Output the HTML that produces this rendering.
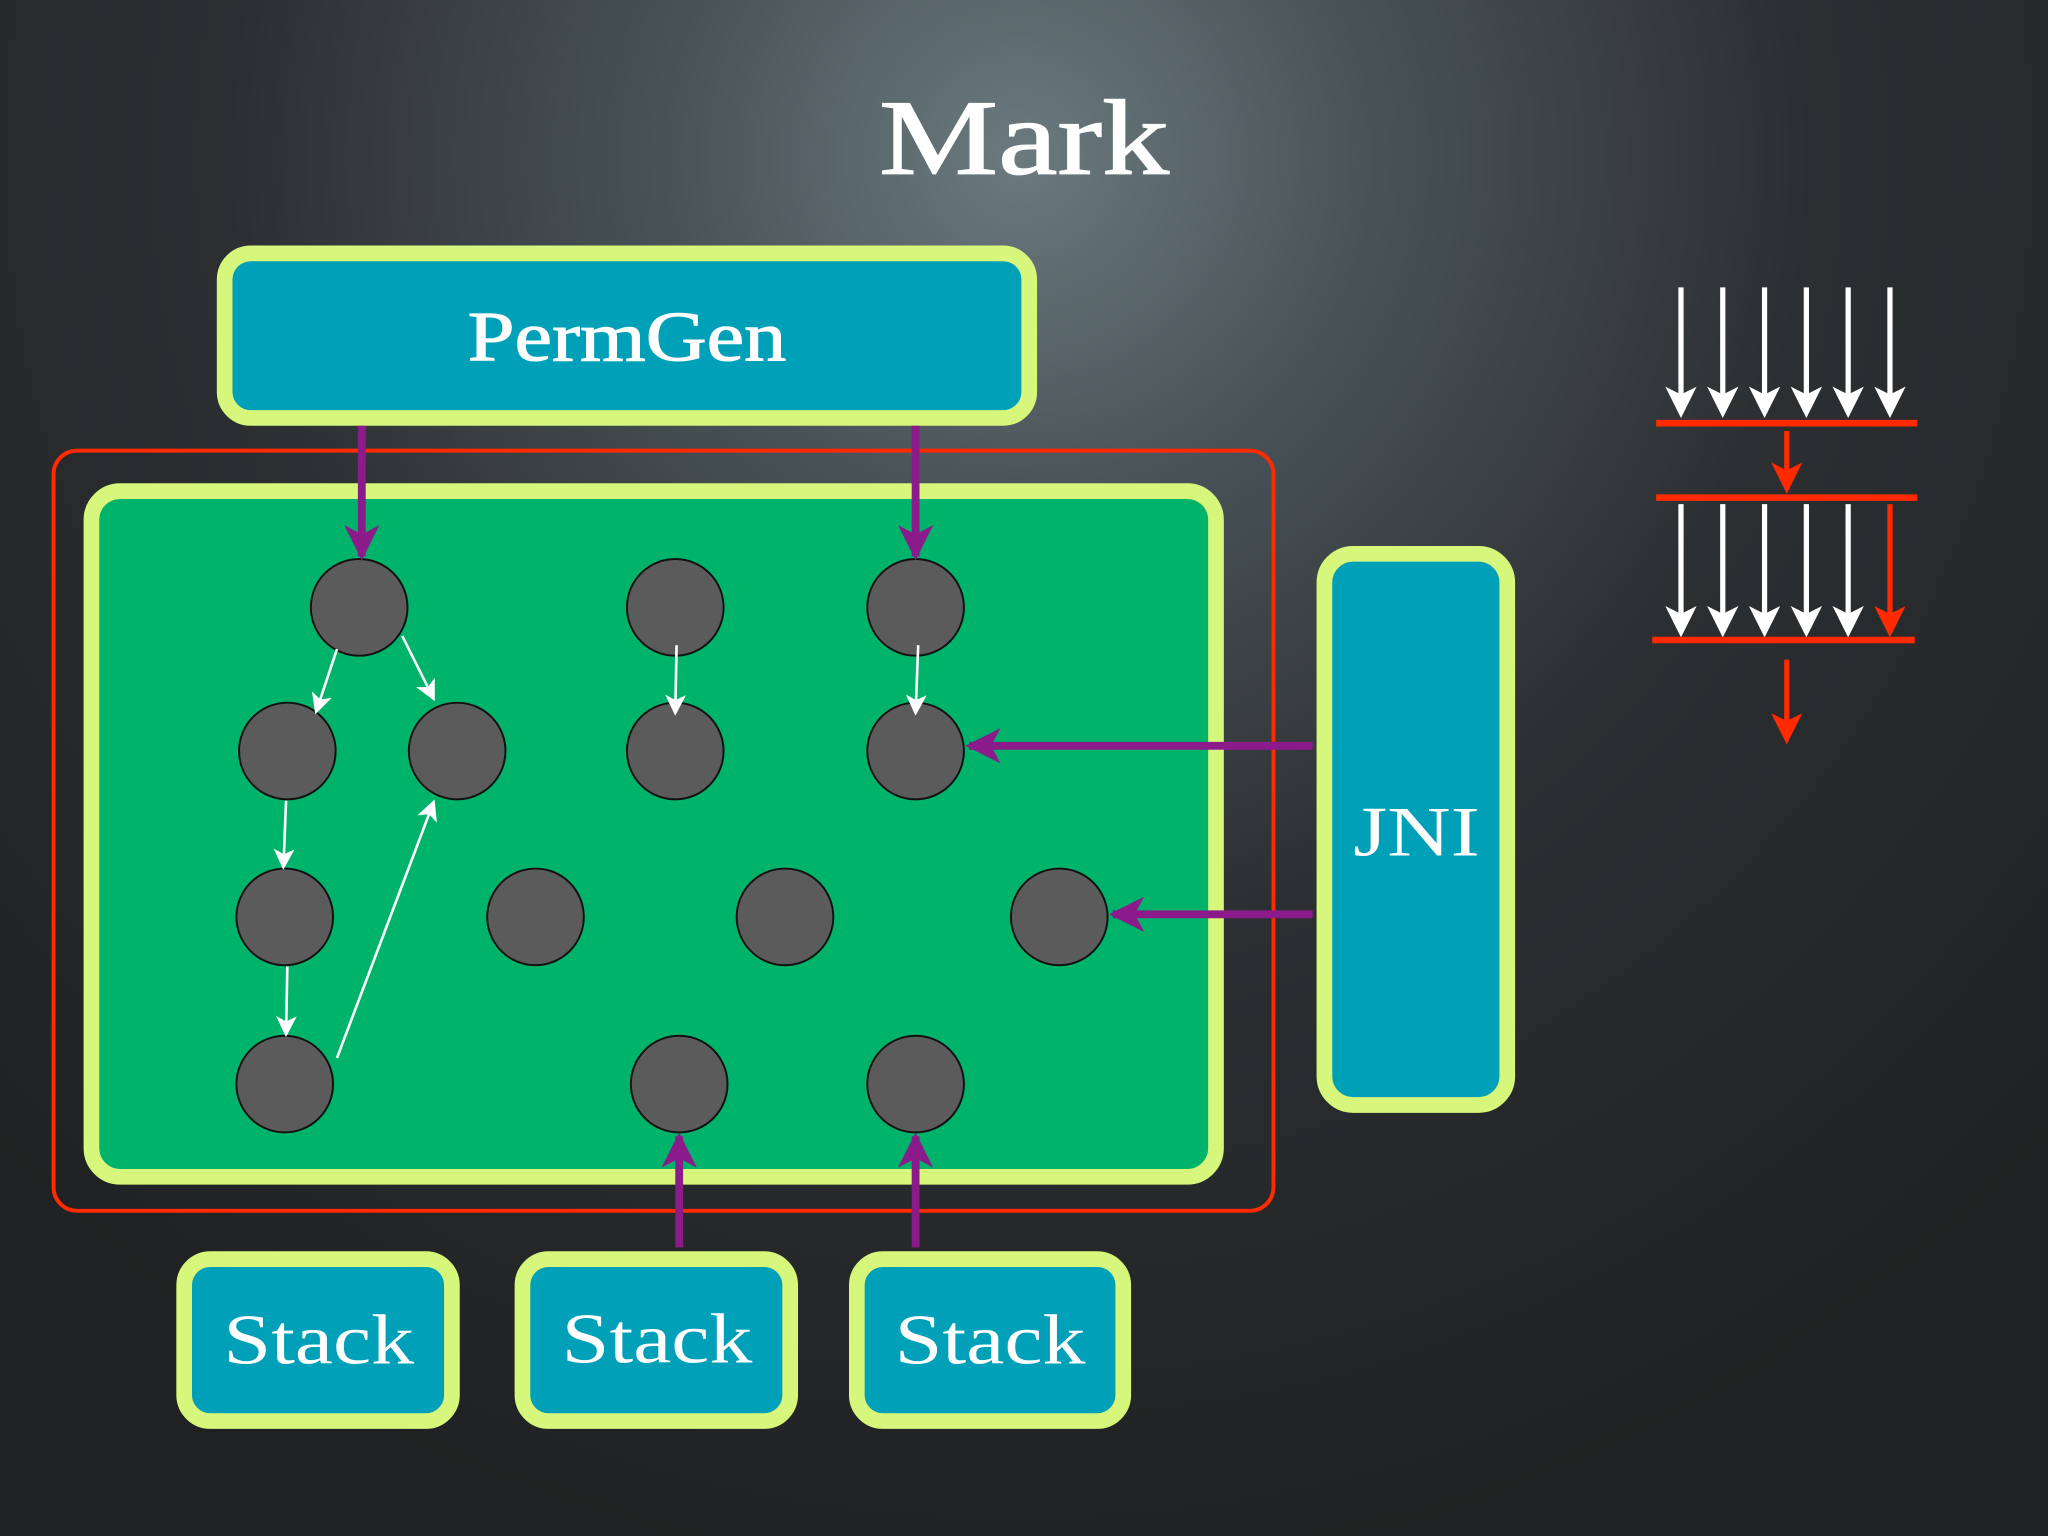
<!DOCTYPE html>
<html><head><meta charset="utf-8"><style>
html,body{margin:0;padding:0;width:2048px;height:1536px;overflow:hidden;background:#1f2122}
svg{display:block}
text{font-family:"Liberation Serif",serif;fill:#fff}
</style></head><body>
<svg width="2048" height="1536" viewBox="0 0 1568 1176" xmlns="http://www.w3.org/2000/svg">
<defs>
<radialGradient id="bg" cx="780" cy="120" r="1100" gradientUnits="userSpaceOnUse">
<stop offset="0" stop-color="#6a7a7f"/>
<stop offset="0.25" stop-color="#485256"/>
<stop offset="0.55" stop-color="#2c2f31"/>
<stop offset="1" stop-color="#1f2122"/>
</radialGradient>
<marker id="pa" markerWidth="4.5" markerHeight="4.5" refX="4" refY="2.25" orient="auto" markerUnits="strokeWidth"><path d="M0,0 L4.5,2.25 L0,4.5 L1.2,2.25 z" fill="#8b1a8b"/></marker>
<marker id="wa" markerWidth="8" markerHeight="8" refX="7" refY="4" orient="auto" markerUnits="strokeWidth"><path d="M0,0 L8,4 L0,8 L2,4 z" fill="#fff"/></marker>
<marker id="wb" markerWidth="6" markerHeight="6" refX="5" refY="3" orient="auto" markerUnits="strokeWidth"><path d="M0,0 L6,3 L0,6 L1.5,3 z" fill="#fff"/></marker>
<marker id="ra" markerWidth="6" markerHeight="6" refX="5" refY="3" orient="auto" markerUnits="strokeWidth"><path d="M0,0 L6,3 L0,6 L1.5,3 z" fill="#ff2a00"/></marker>
</defs>
<rect width="1568" height="1176" fill="url(#bg)"/>
<text x="673" y="133" font-size="82" textLength="222" lengthAdjust="spacingAndGlyphs" stroke="#fff" stroke-width="1">Mark</text>

<rect x="172" y="194" width="616" height="126" rx="20" fill="#00a0b8" stroke="#d6f77c" stroke-width="12"/>
<text x="358" y="276" font-size="54" textLength="244" lengthAdjust="spacingAndGlyphs" stroke="#fff" stroke-width="0.8">PermGen</text>

<rect x="41" y="345" width="934" height="582" rx="18" fill="none" stroke="#ff2a00" stroke-width="3"/>
<rect x="70" y="376" width="861" height="525" rx="22" fill="#00b36b" stroke="#d6f77c" stroke-width="12"/>

<rect x="1014" y="424" width="140" height="422" rx="22" fill="#00a0b8" stroke="#d6f77c" stroke-width="12"/>
<text x="1036" y="655" font-size="54" textLength="97" lengthAdjust="spacingAndGlyphs">JNI</text>

<g fill="#00a0b8" stroke="#d6f77c" stroke-width="12">
<rect x="141" y="964" width="205" height="124" rx="20"/>
<rect x="400" y="964" width="205" height="124" rx="20"/>
<rect x="656" y="964" width="204" height="124" rx="20"/>
</g>
<g font-size="54">
<text x="171" y="1044" textLength="146" lengthAdjust="spacingAndGlyphs">Stack</text>
<text x="430" y="1043" textLength="146" lengthAdjust="spacingAndGlyphs">Stack</text>
<text x="685" y="1044" textLength="146" lengthAdjust="spacingAndGlyphs">Stack</text>
</g>

<g fill="#5b5b5b" stroke="#111" stroke-width="1.5">
<circle cx="275" cy="465" r="37"/><circle cx="517" cy="465" r="37"/><circle cx="701" cy="465" r="37"/>
<circle cx="220" cy="575" r="37"/><circle cx="350" cy="575" r="37"/><circle cx="517" cy="575" r="37"/><circle cx="701" cy="575" r="37"/>
<circle cx="218" cy="702" r="37"/><circle cx="410" cy="702" r="37"/><circle cx="601" cy="702" r="37"/><circle cx="811" cy="702" r="37"/>
<circle cx="218" cy="830" r="37"/><circle cx="520" cy="830" r="37"/><circle cx="701" cy="830" r="37"/>
</g>

<g stroke="#8b1a8b" stroke-width="6" marker-end="url(#pa)" fill="none">
<line x1="277" y1="326" x2="277" y2="426"/>
<line x1="701" y1="326" x2="701" y2="426"/>
<line x1="1005" y1="571" x2="742" y2="571"/>
<line x1="1005" y1="700" x2="852" y2="700"/>
<line x1="520" y1="955" x2="520" y2="870"/>
<line x1="701" y1="955" x2="701" y2="870"/>
</g>

<g stroke="#fff" stroke-width="2" marker-end="url(#wa)">
<line x1="258" y1="497" x2="242" y2="545"/>
<line x1="308" y1="487" x2="332" y2="535"/>
<line x1="518" y1="494" x2="517" y2="546"/>
<line x1="703" y1="494" x2="701" y2="546"/>
<line x1="219" y1="613" x2="217" y2="664"/>
<line x1="220" y1="740" x2="219" y2="792"/>
<line x1="258" y1="810" x2="332" y2="614"/>
</g>

<g stroke="#fff" stroke-width="4" marker-end="url(#wb)">
<line x1="1287" y1="220" x2="1287" y2="316"/><line x1="1319" y1="220" x2="1319" y2="316"/>
<line x1="1351" y1="220" x2="1351" y2="316"/><line x1="1383" y1="220" x2="1383" y2="316"/>
<line x1="1415" y1="220" x2="1415" y2="316"/><line x1="1447" y1="220" x2="1447" y2="316"/>
<line x1="1287" y1="386" x2="1287" y2="484"/><line x1="1319" y1="386" x2="1319" y2="484"/>
<line x1="1351" y1="386" x2="1351" y2="484"/><line x1="1383" y1="386" x2="1383" y2="484"/>
<line x1="1415" y1="386" x2="1415" y2="484"/>
</g>
<g stroke="#ff2a00" stroke-width="5">
<line x1="1268" y1="324" x2="1468" y2="324"/>
<line x1="1268" y1="381" x2="1468" y2="381"/>
<line x1="1265" y1="490" x2="1466" y2="490"/>
</g>
<g stroke="#ff2a00" stroke-width="4" marker-end="url(#ra)">
<line x1="1368" y1="330" x2="1368" y2="374"/>
<line x1="1447" y1="386" x2="1447" y2="484"/>
<line x1="1368" y1="505" x2="1368" y2="566"/>
</g>
</svg>
</body></html>
